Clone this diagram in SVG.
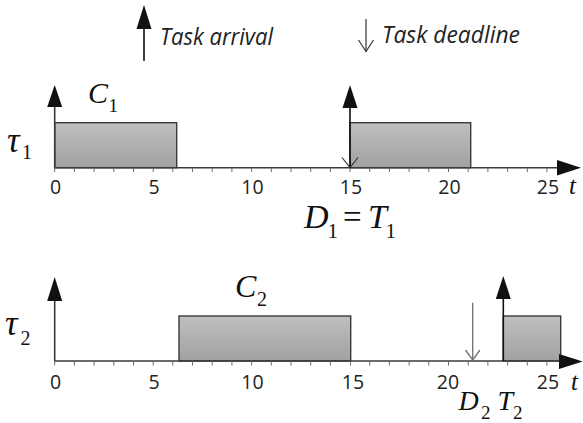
<svg xmlns="http://www.w3.org/2000/svg" width="583" height="423" viewBox="0 0 583 423">
<style>
.axis{stroke:#3a3a3a;stroke-width:1.6;fill:none}
.tick{stroke:#6a6a6a;stroke-width:1}
.task{fill:url(#g);stroke:#3a3a3a;stroke-width:1.4}
.ar{stroke:#111;stroke-width:1.6;fill:none}
.head{fill:#111;stroke:none}
.open{stroke:#333;stroke-width:1.2;fill:none}
.grey{stroke:#777;stroke-width:1.4;fill:none}
.num{font-family:"Open Sans","DejaVu Sans",sans-serif;font-size:19.5px;fill:#222;text-anchor:middle}
.leg{font-family:"Open Sans","DejaVu Sans",sans-serif;font-style:italic;font-size:23px;fill:#222}
.m{font-family:"Liberation Serif","Times New Roman",serif;font-style:italic;fill:#111}
.s{font-family:"Liberation Serif","Times New Roman",serif;fill:#111}
</style>
<defs>
<linearGradient id="g" x1="0" y1="0" x2="0" y2="1">
<stop offset="0" stop-color="#bebfc1"/>
<stop offset="1" stop-color="#a0a1a3"/>
</linearGradient>
</defs>
<rect width="583" height="423" fill="#fff"/>

<g id="legend">
<line class="ar" x1="144" y1="27" x2="144" y2="61"/>
<polygon class="head" points="144,5 136.5,29 151.5,29"/>
<text class="leg" x="160" y="45" textLength="113" lengthAdjust="spacingAndGlyphs">Task arrival</text>
<line class="open" x1="366" y1="19" x2="366" y2="51.5"/>
<polyline class="open" points="358.5,40 366,51.5 373.5,40"/>
<text class="leg" x="382" y="43" textLength="138" lengthAdjust="spacingAndGlyphs">Task deadline</text>
</g>

<g id="task1">
<rect class="task" x="54.7" y="122.7" width="122" height="45"/>
<rect class="task" x="350" y="122.7" width="120.7" height="45"/>
<text class="m" x="7" y="152" font-size="35">τ</text>
<text class="s" x="22" y="159" font-size="20">1</text>
<text class="m" x="88" y="103" font-size="30">C</text>
<text class="s" x="108.5" y="112" font-size="19">1</text>
<text class="m" x="304" y="228" font-size="34">D</text>
<text class="s" x="327.5" y="238" font-size="21">1</text>
<text class="s" x="343" y="228" font-size="33">=</text>
<text class="m" x="368" y="228" font-size="34">T</text>
<text class="s" x="385.5" y="238" font-size="21">1</text>
</g>

<g id="axis1">
<line class="axis" x1="54.7" y1="105" x2="54.7" y2="167.7"/>
<polygon class="head" points="54.7,85 47.2,107 62.2,107"/>
<line class="axis" x1="54.7" y1="167.7" x2="560" y2="167.7"/>
<polygon class="head" points="581,167.7 557,160 557,175.4"/>
<g class="tick">
<line x1="54.7" y1="167.7" x2="54.7" y2="172"/><line x1="74.4" y1="167.7" x2="74.4" y2="172"/><line x1="94.1" y1="167.7" x2="94.1" y2="172"/><line x1="113.8" y1="167.7" x2="113.8" y2="172"/><line x1="133.5" y1="167.7" x2="133.5" y2="172"/><line x1="153.2" y1="167.7" x2="153.2" y2="172"/><line x1="172.8" y1="167.7" x2="172.8" y2="172"/><line x1="192.5" y1="167.7" x2="192.5" y2="172"/><line x1="212.2" y1="167.7" x2="212.2" y2="172"/><line x1="231.9" y1="167.7" x2="231.9" y2="172"/><line x1="251.6" y1="167.7" x2="251.6" y2="172"/><line x1="271.3" y1="167.7" x2="271.3" y2="172"/><line x1="291" y1="167.7" x2="291" y2="172"/><line x1="310.7" y1="167.7" x2="310.7" y2="172"/><line x1="330.4" y1="167.7" x2="330.4" y2="172"/><line x1="350" y1="167.7" x2="350" y2="172"/><line x1="369.7" y1="167.7" x2="369.7" y2="172"/><line x1="389.4" y1="167.7" x2="389.4" y2="172"/><line x1="409.1" y1="167.7" x2="409.1" y2="172"/><line x1="428.8" y1="167.7" x2="428.8" y2="172"/><line x1="448.5" y1="167.7" x2="448.5" y2="172"/><line x1="468.2" y1="167.7" x2="468.2" y2="172"/><line x1="487.9" y1="167.7" x2="487.9" y2="172"/><line x1="507.6" y1="167.7" x2="507.6" y2="172"/><line x1="527.3" y1="167.7" x2="527.3" y2="172"/><line x1="546.9" y1="167.7" x2="546.9" y2="172"/>
</g>
<text class="num" x="55.5" y="193.5">0</text>
<text class="num" x="154" y="193.5">5</text>
<text class="num" x="252.5" y="193.5">10</text>
<text class="num" x="351" y="193.5">15</text>
<text class="num" x="449.5" y="193.5">20</text>
<text class="num" x="548" y="193.5">25</text>
<text class="m" x="569" y="193.5" font-size="25">t</text>
</g>

<g id="arrows1">
<line class="ar" x1="350" y1="105" x2="350" y2="167.7"/>
<polygon class="head" points="350,85 342.5,108 357.5,108"/>
<polyline class="open" points="342,157.5 350,167.5 358,157.5"/>
</g>

<g id="task2">
<rect class="task" x="179" y="316" width="171.7" height="45"/>
<rect class="task" x="503.3" y="316" width="57.4" height="45"/>
<text class="m" x="5" y="335" font-size="35">τ</text>
<text class="s" x="20.5" y="345" font-size="20">2</text>
<text class="m" x="235" y="297" font-size="32">C</text>
<text class="s" x="257" y="306" font-size="20">2</text>
<text class="m" x="458.5" y="409.5" font-size="28">D</text>
<text class="s" x="481" y="419" font-size="19">2</text>
<text class="m" x="497.5" y="409.5" font-size="28">T</text>
<text class="s" x="513" y="419" font-size="19">2</text>
</g>

<g id="axis2">
<line class="axis" x1="54.7" y1="298" x2="54.7" y2="361"/>
<polygon class="head" points="54.7,277 47.2,301 62.2,301"/>
<line class="axis" x1="54.7" y1="361" x2="562" y2="361"/>
<polygon class="head" points="582.7,361.5 559,354 559,369"/>
<g class="tick">
<line x1="54.7" y1="361" x2="54.7" y2="365.5"/><line x1="74.4" y1="361" x2="74.4" y2="365.5"/><line x1="94.1" y1="361" x2="94.1" y2="365.5"/><line x1="113.8" y1="361" x2="113.8" y2="365.5"/><line x1="133.5" y1="361" x2="133.5" y2="365.5"/><line x1="153.2" y1="361" x2="153.2" y2="365.5"/><line x1="172.8" y1="361" x2="172.8" y2="365.5"/><line x1="192.5" y1="361" x2="192.5" y2="365.5"/><line x1="212.2" y1="361" x2="212.2" y2="365.5"/><line x1="231.9" y1="361" x2="231.9" y2="365.5"/><line x1="251.6" y1="361" x2="251.6" y2="365.5"/><line x1="271.3" y1="361" x2="271.3" y2="365.5"/><line x1="291" y1="361" x2="291" y2="365.5"/><line x1="310.7" y1="361" x2="310.7" y2="365.5"/><line x1="330.4" y1="361" x2="330.4" y2="365.5"/><line x1="350.5" y1="361" x2="350.5" y2="365.5"/><line x1="369.7" y1="361" x2="369.7" y2="365.5"/><line x1="389.4" y1="361" x2="389.4" y2="365.5"/><line x1="409.1" y1="361" x2="409.1" y2="365.5"/><line x1="428.8" y1="361" x2="428.8" y2="365.5"/><line x1="448.5" y1="361" x2="448.5" y2="365.5"/><line x1="468.2" y1="361" x2="468.2" y2="365.5"/><line x1="487.9" y1="361" x2="487.9" y2="365.5"/><line x1="507.6" y1="361" x2="507.6" y2="365.5"/><line x1="527.3" y1="361" x2="527.3" y2="365.5"/><line x1="546.9" y1="361" x2="546.9" y2="365.5"/>
</g>
<text class="num" x="55.5" y="388.5">0</text>
<text class="num" x="154" y="388.5">5</text>
<text class="num" x="252.5" y="388.5">10</text>
<text class="num" x="353" y="388.5">15</text>
<text class="num" x="448" y="388.5">20</text>
<text class="num" x="548" y="388.5">25</text>
<text class="m" x="571" y="389.5" font-size="25">t</text>
</g>

<g id="arrows2">
<line class="ar" x1="503.3" y1="296" x2="503.3" y2="361"/>
<polygon class="head" points="503.3,276 495.8,299 510.8,299"/>
<line class="grey" x1="472.7" y1="302.7" x2="472.7" y2="360"/>
<polyline class="grey" points="465.5,350 472.7,360 479.9,350"/>
</g>
</svg>
